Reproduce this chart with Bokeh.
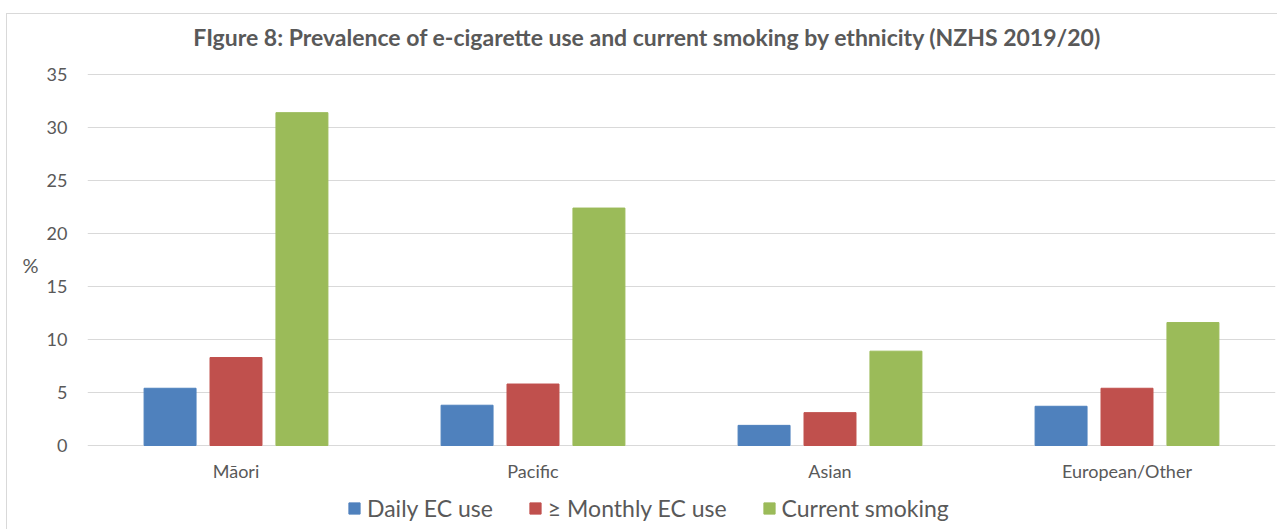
from bokeh.plotting import figure
from bokeh.models import (FactorRange, Range1d, Legend, LegendItem, Label,
                          ColumnDataSource, InlineStyleSheet)
from bokeh.transform import dodge
from bokeh.embed import file_html
from bokeh.resources import INLINE

# Prevalence (%) by ethnicity, NZHS 2019/20
ethnicities = ["Māori", "Pacific", "Asian", "European/Other"]
daily_ec = [5.4, 3.8, 1.9, 3.7]
monthly_ec = [8.3, 5.8, 3.1, 5.4]
current_smoking = [31.4, 22.4, 8.9, 11.6]
series_names = ["Daily EC use", "≥ Monthly EC use", "Current smoking"]
y_ticks = [0, 5, 10, 15, 20, 25, 30, 35]
title_text = "FIgure 8: Prevalence of e-cigarette use and current smoking by ethnicity (NZHS 2019/20)"

colors = ["#4F81BD", "#C0504D", "#9BBB59"]
FONT = "Lato"
TEXT = "#595959"

W, H = 1277, 529
LEFT = 87              # width of the y-axis panel
TOP0, BASE0 = 74, 445  # pixel rows of the 35 and 0 gridlines
px_per_unit = (BASE0 - TOP0) / 35.0
# the plotting frame spans the full height so that title and legend live inside it
y_start = -(H - BASE0) / px_per_unit
y_end = 35 + TOP0 / px_per_unit

source = ColumnDataSource(dict(cat=ethnicities, daily=daily_ec,
                               monthly=monthly_ec, smoking=current_smoking))

p = figure(width=W, height=H, x_range=FactorRange(*ethnicities),
           y_range=Range1d(y_start, y_end), output_backend="svg",
           toolbar_location=None, min_border_left=LEFT, min_border_right=2,
           min_border_top=0, min_border_bottom=0)
p.outline_line_color = None
p.background_fill_color = "white"
p.border_fill_color = "white"

# thin light frame around the whole chart
p.stylesheets = [InlineStyleSheet(css="""
:host::after {
  content: ""; position: absolute; left: 6px; top: 13px;
  width: 1300px; height: 600px; border: 1px solid #D9D9D9;
  pointer-events: none; box-sizing: border-box;
}
:host { overflow: hidden; }
""")]

bar_w = 0.175
offsets = [-0.222, 0.0, 0.222]
fields = ["daily", "monthly", "smoking"]
renderers = []
for field, off, col in zip(fields, offsets, colors):
    r = p.vbar(x=dodge("cat", off, range=p.x_range), top=field, bottom=0,
               width=bar_w, source=source, fill_color=col, line_color=col,
               line_width=1)
    renderers.append(r)

# category axis sits on the zero line inside the frame
p.xaxis.fixed_location = 0
p.xaxis.axis_line_color = None
p.xaxis.major_tick_line_color = None
p.xaxis.minor_tick_line_color = None
p.xaxis.major_tick_out = 0
p.xaxis.major_label_standoff = 14
p.xaxis.major_label_text_font = FONT
p.xaxis.major_label_text_font_size = "18px"
p.xaxis.major_label_text_color = TEXT

p.yaxis.ticker = y_ticks
p.yaxis.axis_line_color = None
p.yaxis.major_tick_line_color = None
p.yaxis.minor_tick_line_color = None
p.yaxis.major_tick_out = 0
p.yaxis.major_label_standoff = 20
p.yaxis.major_label_text_font = FONT
p.yaxis.major_label_text_font_size = "18px"
p.yaxis.major_label_text_color = TEXT
p.yaxis.axis_label = "%"
p.yaxis.axis_label_standoff = 5
p.yaxis.axis_label_text_font = FONT
p.yaxis.axis_label_text_font_style = "normal"
p.yaxis.axis_label_text_font_size = "20px"
p.yaxis.axis_label_text_color = TEXT
p.yaxis.axis_label_orientation = "horizontal"

p.xgrid.grid_line_color = None
p.ygrid.grid_line_color = "#D9D9D9"
p.ygrid.grid_line_width = 1

# chart title
p.add_layout(Label(x=647 - LEFT, y=H - 36, x_units="screen", y_units="screen",
                   text=title_text, text_font=FONT, text_font_style="bold",
                   text_font_size="23px", text_color=TEXT, text_align="center",
                   text_baseline="alphabetic"))

legend = Legend(items=[LegendItem(label=n, renderers=[r])
                       for n, r in zip(series_names, renderers)],
                orientation="horizontal", location=(347 - LEFT, 7),
                glyph_width=14, glyph_height=14, label_standoff=6, spacing=35,
                padding=0, margin=0, border_line_color=None,
                background_fill_alpha=0, label_text_font=FONT,
                label_text_font_size="23px", label_text_color=TEXT)
p.add_layout(legend)

open("out.html", "w").write(file_html(p, INLINE))
